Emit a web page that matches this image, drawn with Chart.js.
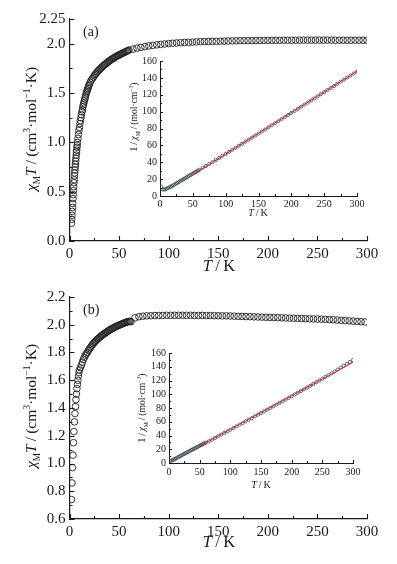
<!DOCTYPE html>
<html>
<head>
<meta charset="utf-8">
<script src="https://cdn.jsdelivr.net/npm/chart.js@4.4.1/dist/chart.umd.min.js"></script>
<style>
  body { margin: 0; background: #fff; }
  #wrap { position: relative; width: 397px; height: 564px; overflow: hidden; background: #fff; }
  #wrap canvas { position: absolute; }
</style>
</head>
<body>
<div id="wrap">
  <canvas id="mainA" width="397" height="282" style="left:0px;top:0px"></canvas>
  <canvas id="insetA" width="255" height="170" style="left:120px;top:52px"></canvas>
  <canvas id="mainB" width="397" height="282" style="left:0px;top:282px"></canvas>
  <canvas id="insetB" width="250" height="150" style="left:125px;top:343px"></canvas>
</div>
<script>
// ---- panel (a) : chi_M T vs T ----
const aT = [2, 2.25, 2.5, 2.75, 3, 3.25, 3.5, 3.75, 4, 4.25, 4.5, 4.75, 5, 5.25, 5.5, 5.75, 6, 6.25, 6.5, 6.75, 7, 7.25, 7.5, 7.75, 8,
  8.5, 9, 9.5, 10, 10.5, 11, 11.5, 12, 12.5, 13, 13.5, 14, 14.5, 15, 15.5, 16, 16.5, 17, 17.5, 18, 18.5, 19, 19.5, 20,
  21, 22, 23, 24, 25, 26, 27, 28, 29, 30, 31, 32, 33, 34, 35, 36, 37, 38, 39, 40, 41, 42, 43, 44, 45, 46, 47, 48, 49, 50,
  51, 52, 53, 54, 55, 56, 57, 58, 59, 60,
  64, 68, 72, 76, 80, 84, 88, 92, 96, 100, 104, 108, 112, 116, 120, 124, 128, 132, 136, 140, 144, 148, 152, 156, 160,
  164, 168, 172, 176, 180, 184, 188, 192, 196, 200, 204, 208, 212, 216, 220, 224, 228, 232, 236, 240, 244, 248, 252,
  256, 260, 264, 268, 272, 276, 280, 284, 288, 292, 296, 300];
const aChiT = [0.18, 0.22, 0.26, 0.30, 0.34, 0.38, 0.43, 0.47, 0.51, 0.55, 0.59, 0.62, 0.66, 0.69, 0.72, 0.75, 0.78, 0.81, 0.84, 0.87, 0.90, 0.92, 0.95, 0.97, 1.00,
  1.04, 1.08, 1.12, 1.15, 1.19, 1.22, 1.25, 1.28, 1.31, 1.33, 1.36, 1.38, 1.40, 1.42, 1.44, 1.46, 1.48, 1.50, 1.515, 1.53, 1.545, 1.56, 1.575, 1.59,
  1.61, 1.63, 1.645, 1.66, 1.675, 1.69, 1.70, 1.715, 1.725, 1.735, 1.745, 1.755, 1.765, 1.775, 1.785, 1.79, 1.80, 1.81, 1.815, 1.825,
  1.83, 1.84, 1.845, 1.85, 1.857, 1.863, 1.87, 1.875, 1.88, 1.886, 1.89, 1.895, 1.90, 1.905, 1.91, 1.915, 1.92, 1.925, 1.93, 1.935,
  1.945, 1.955, 1.962, 1.97, 1.977, 1.983, 1.988, 1.993, 1.997, 2.001, 2.004, 2.007, 2.01, 2.012, 2.014, 2.016, 2.018, 2.02, 2.021, 2.022,
  2.023, 2.024, 2.025, 2.026, 2.027, 2.028, 2.029, 2.03, 2.03, 2.031, 2.031, 2.032, 2.032, 2.033, 2.033, 2.034, 2.034, 2.034, 2.035, 2.035,
  2.035, 2.035, 2.036, 2.036, 2.036, 2.036, 2.036, 2.036, 2.036, 2.036, 2.036, 2.035, 2.035, 2.035, 2.035, 2.035, 2.035, 2.035, 2.035, 2.035];

// inset (a): 1/chi_M vs T, with Curie-Weiss fit
const aInvT = [2, 4, 6, 8, 10, 12, 14, 16, 18, 20, 22, 24, 26, 28, 30, 32, 34, 36, 38, 40, 42, 44, 46, 48, 50, 52, 54, 56, 58, 60,
  65, 70, 75, 80, 85, 90, 95, 100, 105, 110, 115, 120, 125, 130, 135, 140, 145, 150, 155, 160, 165, 170, 175, 180, 185, 190, 195,
  200, 205, 210, 215, 220, 225, 230, 235, 240, 245, 250, 255, 260, 265, 270, 275, 280, 285, 290, 295, 300];
const aInvChi = [11.1, 7.8, 7.7, 8.0, 8.7, 9.4, 10.1, 10.9, 11.8, 12.6, 13.5, 14.5, 15.4, 16.3, 17.3, 18.1, 19.2, 20.1, 21.0, 21.9,
  22.8, 23.8, 24.7, 25.6, 26.5, 27.4, 28.3, 29.2, 30.1, 31.0,
  33.4, 35.6, 38.0, 40.2, 42.6, 45.1, 47.6, 49.9, 52.3, 54.7, 57.1, 59.5, 61.9, 64.4, 66.8, 69.2, 71.6, 74.0, 76.4, 78.8, 81.3, 83.7,
  86.2, 88.6, 91.1, 93.6, 96.0, 98.5, 100.9, 103.4, 105.8, 108.3, 110.7, 113.2, 115.7, 118.1, 120.6, 123.1, 125.5, 128.0, 130.4,
  132.9, 135.4, 137.8, 140.3, 142.7, 145.2, 147.6];
const aFitT = [50, 300];
const aFitInv = [25.2, 147.8];

// ---- panel (b) ----
const bT = [2, 2.5, 3, 3.5, 4, 4.5, 5, 5.5, 6, 6.5, 7, 7.5, 8, 8.5, 9, 9.5, 10,
  11, 12, 13, 14, 15, 16, 17, 18, 19, 20, 21, 22, 23, 24, 25, 26, 27, 28, 29, 30, 31, 32, 33, 34, 35, 36, 37, 38, 39, 40,
  41, 42, 43, 44, 45, 46, 47, 48, 49, 50, 51, 52, 53, 54, 55, 56, 57, 58, 59, 60, 61, 62,
  66, 70, 74, 78, 82, 86, 90, 94, 98, 102, 106, 110, 114, 118, 122, 126, 130, 134, 138, 142, 146, 150, 154, 158, 162, 166,
  170, 174, 178, 182, 186, 190, 194, 198, 202, 206, 210, 214, 218, 222, 226, 230, 234, 238, 242, 246, 250, 254, 258, 262,
  266, 270, 274, 278, 282, 286, 290, 294, 298];
const bChiT = [0.74, 0.86, 0.97, 1.06, 1.15, 1.23, 1.30, 1.36, 1.41, 1.46, 1.50, 1.54, 1.57, 1.60, 1.63, 1.655, 1.675,
  1.69, 1.71, 1.73, 1.75, 1.765, 1.78, 1.79, 1.80, 1.815, 1.825, 1.835, 1.845, 1.855, 1.865, 1.873, 1.88, 1.888, 1.895, 1.90, 1.907,
  1.913, 1.92, 1.925, 1.93, 1.936, 1.94, 1.945, 1.95, 1.955, 1.96, 1.964, 1.968, 1.972, 1.976, 1.98, 1.984, 1.988, 1.991, 1.994, 1.997,
  2.0, 2.003, 2.006, 2.009, 2.012, 2.015, 2.018, 2.02, 2.022, 2.024, 2.025, 2.022,
  2.05, 2.058, 2.062, 2.064, 2.065, 2.066, 2.067, 2.067, 2.068, 2.068, 2.068, 2.068, 2.068, 2.068, 2.068, 2.067, 2.067, 2.067, 2.066,
  2.066, 2.065, 2.065, 2.064, 2.064, 2.063, 2.062, 2.061, 2.06, 2.059, 2.058, 2.057, 2.056, 2.055, 2.054, 2.053, 2.052, 2.051, 2.05,
  2.049, 2.048, 2.047, 2.046, 2.045, 2.044, 2.043, 2.042, 2.041, 2.04, 2.039, 2.037, 2.036, 2.034, 2.032, 2.03, 2.028, 2.026, 2.024,
  2.022, 2.02, 2.018, 2.016];

const bInvT = [2, 4, 6, 8, 10, 12, 14, 16, 18, 20, 22, 24, 26, 28, 30, 32, 34, 36, 38, 40, 42, 44, 46, 48, 50, 52, 54, 56, 58, 60,
  65, 70, 75, 80, 85, 90, 95, 100, 105, 110, 115, 120, 125, 130, 135, 140, 145, 150, 155, 160, 165, 170, 175, 180, 185, 190, 195,
  200, 205, 210, 215, 220, 225, 230, 235, 240, 245, 250, 255, 260, 265, 270, 275, 280, 285, 290, 295, 300];
const bInvChi = [2.7, 3.5, 4.3, 5.1, 6.0, 7.0, 8.0, 9.0, 10.0, 11.0, 11.9, 12.9, 13.8, 14.8, 15.7, 16.7, 17.6, 18.6, 19.5, 20.4,
  21.3, 22.2, 23.2, 24.1, 25.0, 26.0, 26.9, 27.8, 28.7, 29.6,
  31.6, 34.0, 36.4, 38.8, 41.2, 43.6, 46.0, 48.4, 50.9, 53.3, 55.7, 58.1, 60.5, 62.9, 65.3, 67.8, 70.2, 72.6, 75.1, 77.5, 79.9, 82.4,
  84.8, 87.3, 89.7, 92.2, 94.7, 97.2, 99.7, 102.2, 104.7, 107.2, 109.7, 112.3, 114.8, 117.4, 120.0, 122.6, 125.2, 127.9, 130.5,
  133.2, 135.9, 138.6, 141.4, 144.1, 146.9, 149.6];
const bFitT = [50, 300];
const bFitInv = [24.6, 146.5];

// ---- ticks ----
const mainXTicks = [0, 50, 100, 150, 200, 250, 300];
const mainXMinor = [25, 75, 125, 175, 225, 275];
const aYTicks = [0, 0.5, 1.0, 1.5, 2.0, 2.25];
const aYTickLabels = ['0.0', '0.5', '1.0', '1.5', '2.0', '2.25'];
const aYMinor = [0.25, 0.75, 1.25, 1.75];
const bYTicks = [0.6, 0.8, 1.0, 1.2, 1.4, 1.6, 1.8, 2.0, 2.2];
const bYMinor = [0.7, 0.9, 1.1, 1.3, 1.5, 1.7, 1.9, 2.1];
const insetXTicks = [0, 50, 100, 150, 200, 250, 300];
const insetXMinor = [25, 75, 125, 175, 225, 275];
const insetYTicks = [0, 20, 40, 60, 80, 100, 120, 140, 160];
const insetYMinor = [10, 30, 50, 70, 90, 110, 130, 150];

const SERIF = '"Liberation Serif", "DejaVu Serif", "Times New Roman", serif';
const INK = '#1a1a1a';

const xy = (xs, ys) => xs.map((x, i) => ({ x: x, y: ys[i] }));

// rich text: list of segments [text, italic, scale, dy(em)]
function drawRich(ctx, t, ox, oy) {
  const parts = t.segs.map(s => {
    const size = t.size * (s[2] || 1);
    const font = (s[1] ? 'italic ' : '') + size + 'px ' + SERIF;
    ctx.font = font;
    return { text: s[0], font: font, w: ctx.measureText(s[0]).width, dy: (s[3] || 0) * t.size };
  });
  const total = parts.reduce((a, p) => a + p.w, 0);
  ctx.save();
  ctx.translate(t.x - ox, t.y - oy);
  if (t.rot) ctx.rotate(t.rot);
  ctx.fillStyle = INK;
  ctx.textBaseline = 'alphabetic';
  let x = t.align === 'left' ? 0 : -total / 2;
  parts.forEach(p => { ctx.font = p.font; ctx.fillText(p.text, x, p.dy); x += p.w; });
  ctx.restore();
}

// inward major/minor ticks plus axis titles
const decor = {
  id: 'decor',
  afterDraw(chart, args, o) {
    const ctx = chart.ctx, a = chart.chartArea;
    const xs = chart.scales.x, ys = chart.scales.y;
    ctx.save();
    ctx.strokeStyle = INK;
    ctx.lineWidth = o.lw;
    ctx.beginPath();
    const tx = (vals, len) => vals.forEach(v => {
      const p = Math.round(xs.getPixelForValue(v)) + 0.5;
      ctx.moveTo(p, a.bottom); ctx.lineTo(p, a.bottom - len);
    });
    const ty = (vals, len) => vals.forEach(v => {
      const p = Math.round(ys.getPixelForValue(v)) + 0.5;
      ctx.moveTo(a.left, p); ctx.lineTo(a.left + len, p);
    });
    tx(o.xMajor, o.major); tx(o.xMinor, o.minor);
    ty(o.yMajor, o.major); ty(o.yMinor, o.minor);
    ctx.stroke();
    ctx.restore();
    const ox = chart.canvas.offsetLeft, oy = chart.canvas.offsetTop;
    (o.texts || []).forEach(t => drawRich(ctx, t, ox, oy));
  }
};

function axis(min, max, ticks, labels, fontSize, fit, horizontal, pad) {
  return {
    type: 'linear', min: min, max: max,
    afterBuildTicks: s => { s.ticks = ticks.map(v => ({ value: v })); },
    afterFit: s => { if (horizontal) s.height = fit; else s.width = fit; },
    grid: { display: false, drawTicks: false, tickLength: 0 },
    border: { display: true, color: INK, width: fontSize > 12 ? 1.2 : 1 },
    ticks: {
      autoSkip: false, maxRotation: 0, padding: pad, color: INK,
      font: { family: SERIF, size: fontSize },
      callback: v => labels ? labels[ticks.indexOf(v)] : String(v)
    }
  };
}

function makeChart(id, datasets, pad, xAx, yAx, deco) {
  return new Chart(document.getElementById(id), {
    type: 'scatter',
    data: { datasets: datasets },
    options: {
      responsive: false, animation: false, events: [],
      layout: { padding: pad },
      plugins: { legend: { display: false }, tooltip: { enabled: false }, decor: deco },
      scales: { x: xAx, y: yAx }
    },
    plugins: [decor]
  });
}

const mainPts = (xs, ys) => ({
  data: xy(xs, ys), showLine: false, pointRadius: 3.3, pointBorderWidth: 0.9,
  pointBorderColor: '#222', pointBackgroundColor: 'rgba(0,0,0,0)'
});
const insetPts = (xs, ys) => ({
  data: xy(xs, ys), showLine: false, pointRadius: 1.6, pointBorderWidth: 0.8,
  pointBorderColor: '#3b4c52', pointBackgroundColor: 'rgba(0,0,0,0)'
});
const fitLine = (xs, ys) => ({
  data: xy(xs, ys), showLine: true, pointRadius: 0, borderColor: '#d42a2a', borderWidth: 1
});

const fmt1 = v => v.toFixed(1);
const yTitleMain = (y) => ({
  x: 36, y: y, rot: -Math.PI / 2, size: 15.5,
  segs: [['χ', true], ['M', false, 0.6, 0.28], ['T', true], ['\u2009/\u2009(cm', false], ['3', false, 0.62, -0.38],
    ['·mol', false], ['−1', false, 0.62, -0.38], ['·K)', false]]
});
const xTitleMain = (y) => ({ x: 219, y: y, size: 16.5, segs: [['T', true], ['\u2009/\u2009K', false]] });
const yTitleInset = (x, y) => ({
  x: x, y: y, rot: -Math.PI / 2, size: 9.5,
  segs: [['1\u2009/\u2009', false], ['χ', true], ['M', false, 0.6, 0.28], ['\u2009/\u2009(mol·cm', false],
    ['−3', false, 0.62, -0.38], [')', false]]
});
const xTitleInset = (x, y) => ({ x: x, y: y, size: 10, segs: [['T', true], ['\u2009/\u2009K', false]] });

// panel (a)
makeChart('mainA', [mainPts(aT, aChiT)], { top: 19, right: 30, left: 0, bottom: 0 },
  axis(0, 300, mainXTicks, null, 15, 41, true, 4),
  axis(0, 2.25, aYTicks, aYTickLabels, 15, 69.5, false, 4),
  { lw: 1.1, major: 5, minor: 3, xMajor: mainXTicks, xMinor: mainXMinor, yMajor: aYTicks, yMinor: aYMinor,
    texts: [yTitleMain(129), xTitleMain(271),
      { x: 83, y: 36, size: 14, align: 'left', segs: [['(a)', false]] }] });

makeChart('insetA', [fitLine(aFitT, aFitInv), insetPts(aInvT, aInvChi)], { top: 9, right: 18, left: 0, bottom: 0 },
  axis(0, 300, insetXTicks, null, 10, 26, true, 2),
  axis(0, 160, insetYTicks, null, 10, 40, false, 3),
  { lw: 1, major: 3, minor: 2, xMajor: insetXTicks, xMinor: insetXMinor, yMajor: insetYTicks, yMinor: insetYMinor,
    texts: [yTitleInset(137, 117), xTitleInset(258, 216)] });

// panel (b)
makeChart('mainB', [mainPts(bT, bChiT)], { top: 15, right: 30, left: 0, bottom: 0 },
  axis(0, 300, mainXTicks, null, 15, 45, true, 4),
  axis(0.6, 2.2, bYTicks, bYTicks.map(fmt1), 15, 69.5, false, 4),
  { lw: 1.1, major: 5, minor: 3, xMajor: mainXTicks, xMinor: mainXMinor, yMajor: bYTicks, yMinor: bYMinor,
    texts: [yTitleMain(406), xTitleMain(547),
      { x: 83, y: 314, size: 14, align: 'left', segs: [['(b)', false]] }] });

makeChart('insetB', [fitLine(bFitT, bFitInv), insetPts(bInvT, bInvChi)], { top: 10, right: 22, left: 0, bottom: 0 },
  axis(0, 300, insetXTicks, null, 10, 30, true, 3),
  axis(0, 160, insetYTicks, null, 10, 44, false, 3),
  { lw: 1, major: 3, minor: 2, xMajor: insetXTicks, xMinor: insetXMinor, yMajor: insetYTicks, yMinor: insetYMinor,
    texts: [yTitleInset(145, 408), xTitleInset(261, 488)] });
</script>
</body>
</html>
